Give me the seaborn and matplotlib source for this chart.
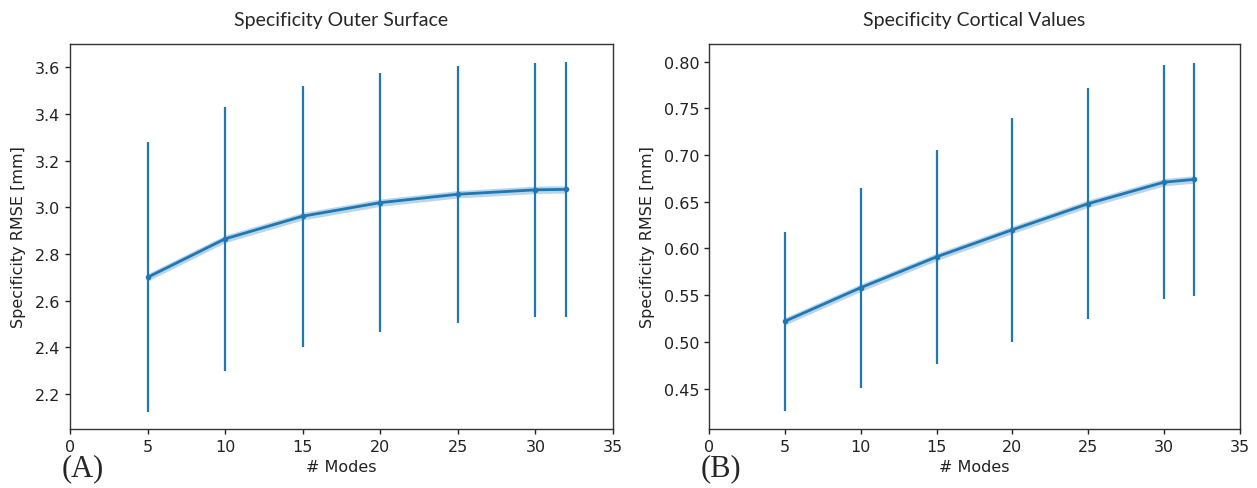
"""Specificity RMSE vs number of modes (two panels)."""

import matplotlib.pyplot as plt
import numpy as np
import pandas as pd
import seaborn as sns

# Data
modes = [5, 10, 15, 20, 25, 30, 32]

outer_mean = [2.700, 2.865, 2.962, 3.020, 3.056, 3.075, 3.077]
outer_std = [0.578, 0.567, 0.560, 0.555, 0.550, 0.545, 0.545]
outer_band = [0.016, 0.016, 0.016, 0.016, 0.016, 0.016, 0.016]

cortical_mean = [0.522, 0.558, 0.591, 0.620, 0.648, 0.671, 0.674]
cortical_std = [0.096, 0.107, 0.115, 0.120, 0.124, 0.125, 0.125]
cortical_band = [0.004, 0.004, 0.004, 0.004, 0.004, 0.004, 0.004]

titles = ["Specificity Outer Surface", "Specificity Cortical Values"]
panel_labels = ["(A)", "(B)"]
xticks = [0, 5, 10, 15, 20, 25, 30, 35]
outer_yticks = [2.2, 2.4, 2.6, 2.8, 3.0, 3.2, 3.4, 3.6]
cortical_yticks = [0.45, 0.50, 0.55, 0.60, 0.65, 0.70, 0.75, 0.80]

sns.set_style("white")
plt.rcParams["font.family"] = ["DejaVu Sans"]

color = "#1f77b4"
fig = plt.figure(figsize=(12.57, 4.89), dpi=100)
ax_a = fig.add_axes([0.0557, 0.1207, 0.4320, 0.7873])
ax_b = fig.add_axes([0.5640, 0.1207, 0.4224, 0.7873])

panels = [
    (ax_a, outer_mean, outer_std, outer_band, outer_yticks, (2.05, 3.70), "{:.1f}"),
    (ax_b, cortical_mean, cortical_std, cortical_band, cortical_yticks, (0.4067, 0.819), "{:.2f}"),
]

for i, (ax, mean, std, band, yticks, ylim, fmt) in enumerate(panels):
    df = pd.DataFrame({"modes": modes, "rmse": mean})
    mean = np.array(mean)
    band = np.array(band)

    # Faint band around the mean
    ax.fill_between(modes, mean - band, mean + band, color=color, alpha=0.3, linewidth=0)
    sns.lineplot(data=df, x="modes", y="rmse", ax=ax, color=color, linewidth=2,
                 marker="o", markersize=4, markeredgewidth=0)
    ax.errorbar(modes, mean, yerr=std, fmt="none", ecolor=color, elinewidth=1.6, capsize=0)

    ax.set_xlim(0, 35)
    ax.set_ylim(*ylim)
    ax.set_xticks(xticks)
    ax.set_yticks(yticks)
    ax.set_yticklabels([fmt.format(v) for v in yticks])
    ax.tick_params(axis="both", labelsize=11.5, colors="#222222", length=3.5, width=1,
                   direction="out", bottom=True, left=True)
    for spine in ax.spines.values():
        spine.set_color("#333333")
        spine.set_linewidth(1)

    ax.set_xlabel("# Modes", fontsize=11.5, color="#222222", labelpad=4)
    ax.set_ylabel("Specificity RMSE [mm]", fontsize=11.5, color="#222222", labelpad=6)
    ax.set_title(titles[i], fontsize=14, family=["Lato", "DejaVu Sans"], pad=14)

    pos = ax.get_position()
    fig.text(pos.x0 - 0.007, 0.012, panel_labels[i], fontsize=22,
             family=["Liberation Serif", "DejaVu Serif"], ha="left", va="bottom")

fig.savefig("out.png", dpi=100)
